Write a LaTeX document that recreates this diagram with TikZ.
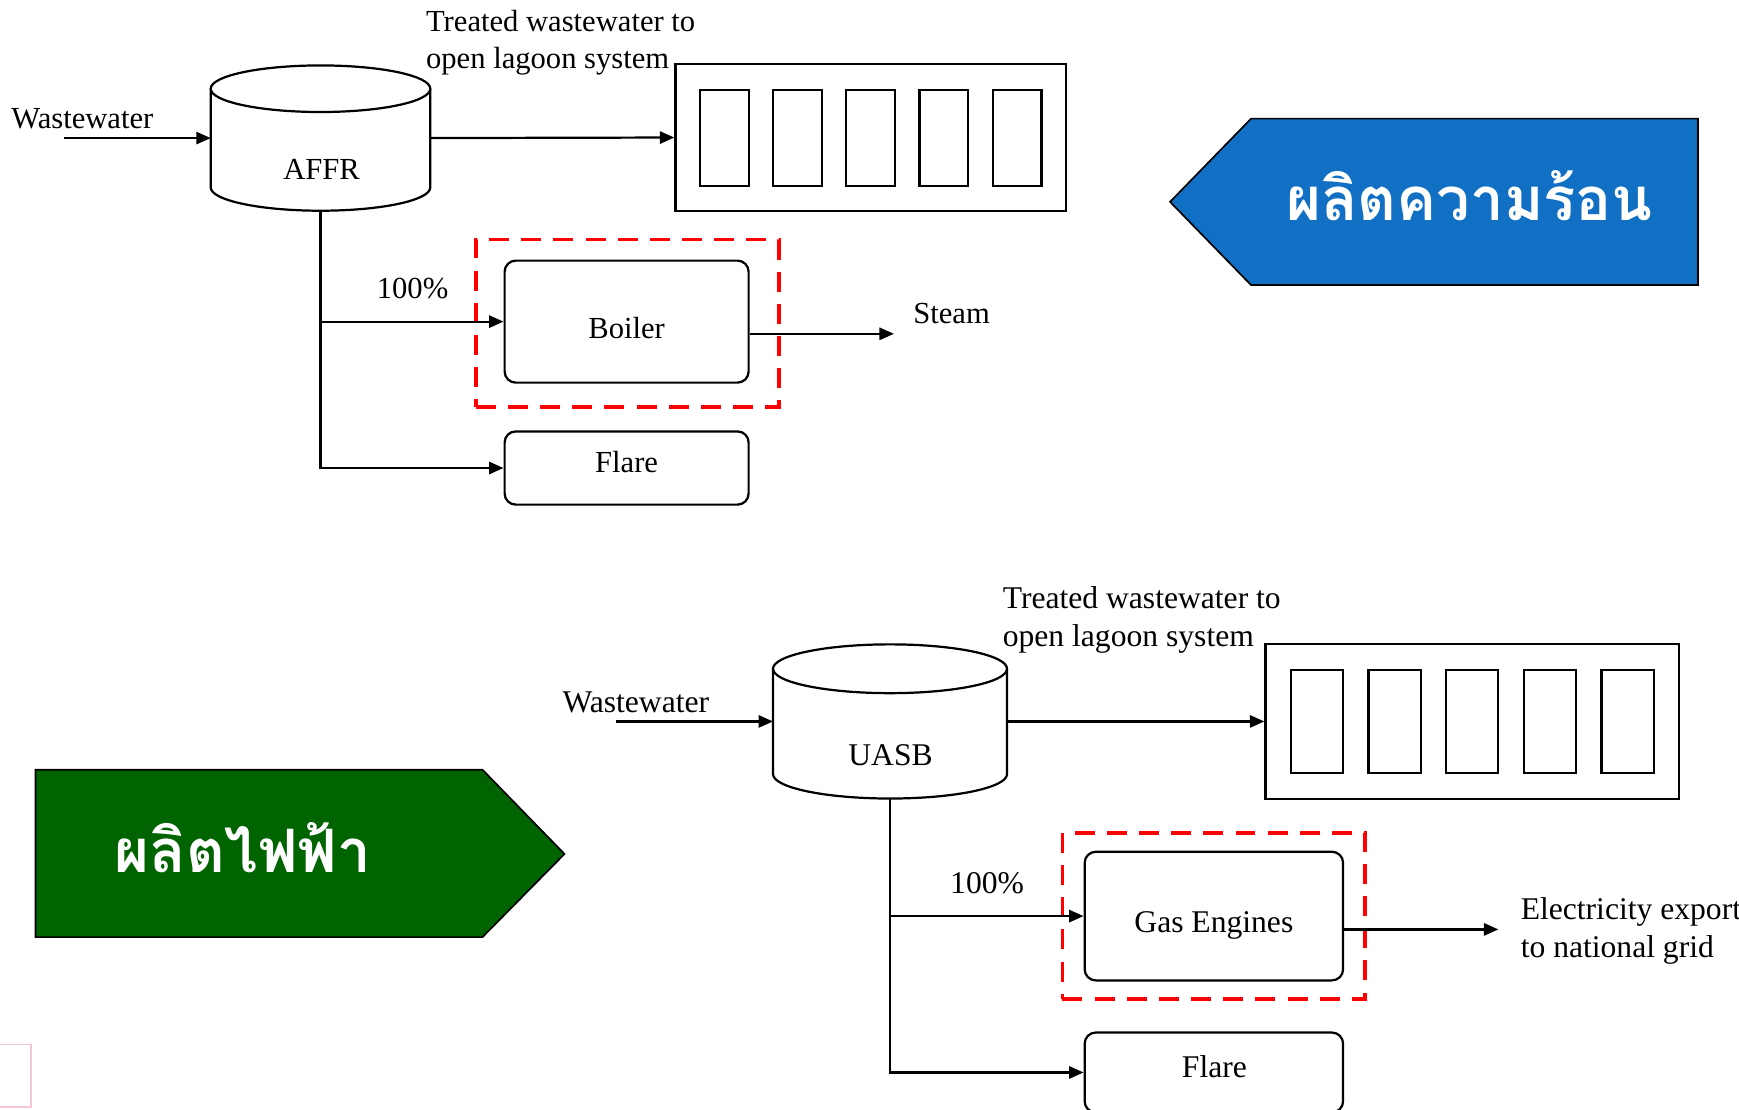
\documentclass[tikz,border=0pt]{standalone}
\usepackage{fontspec}
\setmainfont{Liberation Serif}
\newfontfamily\thaifont[Script=Thai]{Loma}
\usetikzlibrary{arrows.meta}
\definecolor{heatblue}{HTML}{1170C4}
\definecolor{powergreen}{HTML}{006400}
\definecolor{faintpink}{HTML}{F6C6D6}
\tikzset{
  x=1pt, y=1pt,
  line/.style={line width=2pt, black},
  arr/.style={line, -{Triangle[length=13pt, width=11pt]}},
  proc/.style={draw, line width=2pt, rounded corners=10pt, inner sep=0pt},
  plainbox/.style={draw, line width=2pt, inner sep=0pt},
  ghost/.style={inner sep=0pt, outer sep=0pt},
  hilite/.style={draw=red, line width=3.5pt, dash pattern=on 18pt off 11pt, inner sep=0pt},
  lbl/.style={font=\fontsize{27.6}{33}\selectfont, inner sep=0pt},
  lblb/.style={font=\fontsize{28.5}{34}\selectfont, inner sep=0pt},
  banner/.style={draw=black, line width=1.5pt},
  bannertext/.style={font=\thaifont\bfseries\fontsize{54}{60}\selectfont, text=white, inner sep=0pt}
}
\begin{document}
\begin{tikzpicture}
\useasboundingbox (0,0) rectangle (1568,-1000);

% ---------- AFFR line: heat production ----------
\node[ghost, minimum width=198pt, minimum height=131pt] (affr) at (289,-124.5) {};
\draw[line, fill=white] (190,-80) -- (190,-169) arc[start angle=180, end angle=360, x radius=99pt, y radius=21pt] -- (388,-80);
\draw[line] (289,-80) ellipse[x radius=99pt, y radius=21pt];
\node[lbl] at (290,-153) {AFFR};

\node[plainbox, minimum width=352pt, minimum height=132pt] (lag1) at (785,-124) {};
\foreach \i in {0,...,4}
  \node[plainbox, minimum width=44pt, minimum height=87pt] (lag1c\i) at (653+66*\i,-124.5) {};

\node[lbl, anchor=west] (ww1) at (10,-107) {Wastewater};
\coordinate (ww1in) at (58,-124.5);
\node[lbl, anchor=north west, align=left] (tw1) at (384,-9) {Treated wastewater to\\open lagoon system};

\node[proc, minimum width=220pt, minimum height=110pt] (boiler) at (565,-290) {};
\node[lbl] at (565,-296) {Boiler};
\node[hilite, minimum width=273pt, minimum height=151pt] (hl1) at (565.5,-291.5) {};
\node[proc, minimum width=220pt, minimum height=66pt] (flare1) at (565,-422) {};
\node[lbl] at (565,-417) {Flare};
\node[lbl] (pct1) at (372,-260) {100\%};
\coordinate (steamend) at (806,-301);
\node[lbl] (steam) at (858,-283) {Steam};

\draw[arr] (ww1in) -- (affr.west);
\draw[arr] (affr.east) -- (lag1.west);
\draw[arr] (affr.south) |- (flare1.west);
\draw[arr] (affr.south |- boiler.west) -- (boiler.west);
\draw[arr] (boiler.east |- steamend) -- (steamend);

% ---------- UASB line: power production ----------
\node[ghost, minimum width=211pt, minimum height=139pt] (uasb) at (802.5,-650.5) {};
\draw[line, fill=white] (697,-603) -- (697,-698) arc[start angle=180, end angle=360, x radius=105.5pt, y radius=22pt] -- (908,-603);
\draw[line] (802.5,-603) ellipse[x radius=105.5pt, y radius=22pt];
\node[lblb] at (803,-681) {UASB};

\node[plainbox, minimum width=373pt, minimum height=140pt] (lag2) at (1327.5,-650.5) {};
\foreach \i in {0,...,4}
  \node[plainbox, minimum width=47pt, minimum height=93pt] (lag2c\i) at (1187.5+70*\i,-650.5) {};

\node[lblb, anchor=west] (ww2) at (507,-633) {Wastewater};
\coordinate (ww2in) at (555,-650.5);
\node[lblb, anchor=north west, align=left] (tw2) at (904,-529) {Treated wastewater to\\open lagoon system};

\node[proc, minimum width=233pt, minimum height=116pt] (engines) at (1094.5,-826) {};
\node[lblb] at (1094.5,-834) {Gas Engines};
\node[hilite, minimum width=273pt, minimum height=150pt] (hl2) at (1094.5,-826) {};
\node[proc, minimum width=233pt, minimum height=72pt] (flare2) at (1094.5,-967) {};
\node[lblb] at (1095,-962) {Flare};
\node[lblb] (pct2) at (890,-796) {100\%};
\coordinate (gridend) at (1351,-838);
\node[lblb, anchor=north west, align=left] (grid) at (1371,-809) {Electricity export\\to national grid};

\draw[arr] (ww2in) -- (uasb.west);
\draw[arr] (uasb.east) -- (lag2.west);
\draw[arr] (uasb.south) |- (flare2.west);
\draw[arr] (uasb.south |- engines.west) -- (engines.west);
\draw[arr] (engines.east |- gridend) -- (gridend);

% ---------- banners ----------
\draw[banner, fill=heatblue] (1055,-182) -- (1128,-107) -- (1531,-107) -- (1531,-257) -- (1128,-257) -- cycle;
\node[bannertext] (heat) at (1325,-176) {ผลิตความร้อน};

\draw[banner, fill=powergreen] (32,-694) -- (435,-694) -- (509,-770) -- (435,-845) -- (32,-845) -- cycle;
\node[bannertext, anchor=west] (power) at (103,-764) {ผลิตไฟฟ้า};

% small pink frame at the lower left edge
\draw[faintpink, line width=1.2pt] (-2,-942) rectangle (28,-998);
\end{tikzpicture}
\end{document}
